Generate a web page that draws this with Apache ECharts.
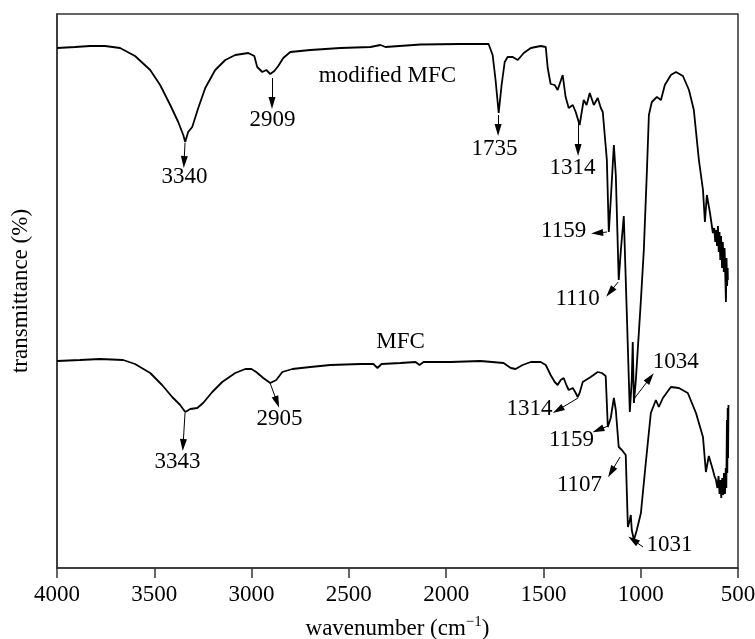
<!DOCTYPE html>
<html>
<head>
<meta charset="utf-8">
<script src="https://cdn.jsdelivr.net/npm/echarts@6/dist/echarts.min.js"></script>
<style>
html,body{margin:0;padding:0;background:#fff;}
#chart{width:755px;height:639px;}
</style>
</head>
<body>
<div id="chart"></div>
<script>
// ---- data (wavenumber cm-1, transmittance in arbitrary units) ----
const modifiedWn = [4000,3907,3830,3753,3676,3599,3521,3470,3418,3377,3351,3341,3326,3305,3274,3238,3187,3135,3084,3017,2986,2971,2945,2924,2904,2883,2863,2837,2801,2698,2543,2389,2338,2312,2132,1926,1782,1761,1746,1730,1715,1699,1684,1658,1632,1601,1565,1514,1488,1478,1463,1442,1427,1401,1386,1370,1349,1334,1314,1293,1278,1262,1241,1221,1205,1195,1174,1164,1154,1138,1128,1113,1102,1087,1072,1056,1046,1041,1035,1025,999,984,968,958,943,917,896,876,845,819,783,752,727,701,680,670,660,644,629,622,617,613,608,603,599,595,591,587,582,578,573,569,565,562,559,556,553,552];
const modifiedT  = [520,521,522,522,520,512,498,483,463,446,433,426,436,441,460,480,498,508,513,515,512,501,496,498,494,497,502,510,516,518,520,521,523,521,523.5,524,524,513,488,455,483,506,511,511,508,515,520,522,521,500,484,483,478,493,471,460,463,456,443,468,463,475,463,470,460,456,408,336,368,423,393,288,318,352,258,156,188,226,165,188,268,318,398,453,466,471,468,483,493,496,492,478,458,408,378,346,373,355,335,340,326,338,322,342,316,336,308,332,300,326,296,320,290,266,310,282,300,288];

const mfcWn = [4000,3882,3779,3660,3599,3521,3460,3408,3367,3341,3315,3279,3249,3202,3151,3084,3032,3001,2976,2940,2904,2873,2842,2790,2698,2595,2440,2374,2353,2332,2235,2157,2137,2116,1977,1823,1705,1668,1643,1607,1565,1514,1488,1463,1442,1427,1411,1396,1380,1370,1349,1334,1324,1314,1298,1257,1221,1211,1200,1190,1180,1169,1154,1138,1128,1113,1097,1087,1077,1066,1056,1051,1046,1035,1020,999,974,948,922,907,886,845,804,758,716,680,665,650,629,621,613,606,600,595,590,586,581,577,572,567,563,560,557,555,553,551,549];
const mfcT  = [207,208,209,208,204,195,183,171,163,156,159,160,165,176,186,195,199,199,196,190,185,188,196,199,201,203,204,204,200,204,205,206,203,206,206,207,205,200,199,203,206,206,203,193,186,183,188,190,182,178,180,175,171,175,186,191,196,198,195,197,192,141,150,170,158,121,118,120,113,41,48,53,38,28,38,55,105,155,168,161,170,181,180,175,155,131,96,112,98,92,88,80,92,74,88,70,90,73,95,74,100,80,148,95,160,110,163];

// tick labels
const xTicks = [4000,3500,3000,2500,2000,1500,1000,500];

// annotation texts and positions (data coordinates)
const noteText = ['3340','2909','modified MFC','1735','1314','1159','1110','1034','MFC','3343','2905','1314','1159','1107','1031'];
const noteWn   = [3342,2890,2299,1749,1348,1394,1322,818,2232,3378,2854,1569,1353,1312,849];
const noteT    = [391,448,492,419,400,337,269,206,226,106,149,159,128,83,23];

// arrows: from (curve) to (head)
const arrowFromWn = [3342,2895,1733,1322,1173,1116,1039,3342,2905,1322,1168,1106,988];
const arrowFromT  = [425,490,453,445,336,286,168,155,185,170,142,111,21];
const arrowToWn   = [3347,2895,1733,1322,1224,1158,952,3352,2869,1425,1219,1152,1039];
const arrowToT    = [406,465,438,418,335,276,190,123,166,158,138,96,28];

const FONT = "'Liberation Serif','Times New Roman',serif";
const TXT = '#000';
const zip = (a,b) => a.map((v,i) => [v,b[i]]);

const chart = echarts.init(document.getElementById('chart'), null, {renderer:'canvas'});
chart.setOption({
  animation:false,
  backgroundColor:'#fff',
  grid:{left:57,right:17,top:14,bottom:71,containLabel:false,outerBoundsMode:'none',
        show:true,borderColor:'#333',borderWidth:1.5,backgroundColor:'transparent'},
  xAxis:{
    type:'value',inverse:true,min:500,max:4000,interval:500,
    axisLine:{show:true,lineStyle:{color:'#333',width:1.5}},
    axisTick:{show:true,inside:false,length:10,lineStyle:{color:'#333',width:1.5}},
    axisLabel:{show:true,fontFamily:FONT,fontSize:23,color:TXT,margin:15,
      formatter:v => xTicks.includes(v) ? String(v) : ''},
    splitLine:{show:false},
    name:'{a|wavenumber (cm}{s|−1}{a|)}',
    nameLocation:'middle',nameGap:47,
    nameTextStyle:{fontFamily:FONT,color:TXT,
      rich:{a:{fontFamily:FONT,fontSize:23,color:TXT},
            s:{fontFamily:FONT,fontSize:15,color:TXT,padding:[0,0,12,0]}}}
  },
  yAxis:{
    type:'value',min:0,max:554,
    axisLine:{show:true,lineStyle:{color:'#333',width:1.5}},
    axisTick:{show:false},axisLabel:{show:false},splitLine:{show:false},
    name:'transmittance (%)',nameLocation:'middle',nameRotate:90,nameGap:25,
    nameTextStyle:{fontFamily:FONT,fontSize:23,color:TXT}
  },
  series:[
    {type:'line',name:'modified MFC',data:zip(modifiedWn,modifiedT),showSymbol:false,symbol:'none',
     lineStyle:{color:'#000',width:1.8},silent:true},
    {type:'line',name:'MFC',data:zip(mfcWn,mfcT),showSymbol:false,symbol:'none',
     lineStyle:{color:'#000',width:1.8},silent:true},
    {type:'scatter',name:'notes',symbol:'circle',symbolSize:1,silent:true,
     itemStyle:{color:'#000',opacity:0},
     data:noteText.map((t,i)=>({name:t,value:[noteWn[i],noteT[i]]})),
     label:{show:true,position:[0,0],align:'center',verticalAlign:'middle',
       formatter:p=>p.name,fontFamily:FONT,fontSize:23,color:TXT,opacity:1,
       textBorderWidth:0,textShadowBlur:0},
     markLine:{silent:true,symbol:['none','triangle'],symbolSize:[7,12],
       label:{show:false},
       lineStyle:{type:'solid',color:'#000',width:1,opacity:1},
       itemStyle:{color:'#000',opacity:1},
       emphasis:{disabled:true},
       data:arrowFromWn.map((w,i)=>[{coord:[w,arrowFromT[i]]},{coord:[arrowToWn[i],arrowToT[i]]}])}
    }
  ]
});
</script>
</body>
</html>
